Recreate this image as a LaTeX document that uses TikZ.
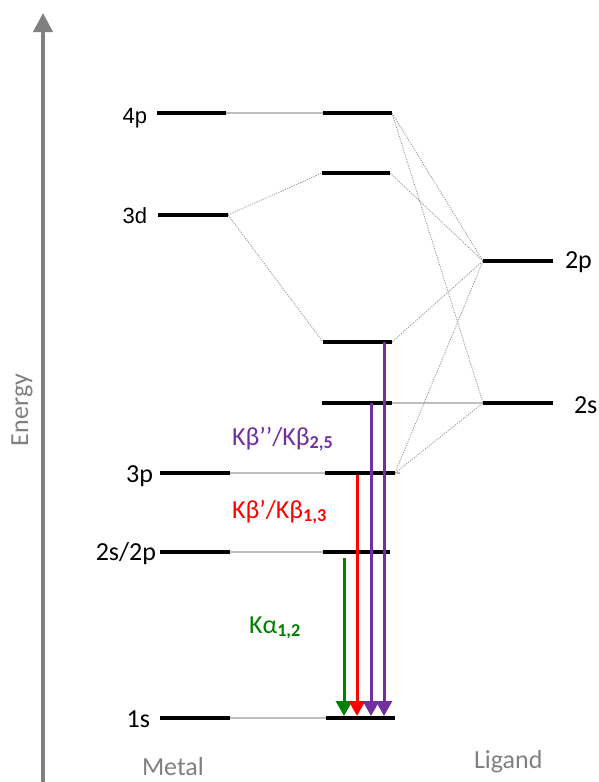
\documentclass[tikz,border=0pt]{standalone}
\usepackage{fontspec}
\setmainfont{Carlito}
\newfontfamily\arialfont{Liberation Sans}
\usetikzlibrary{arrows.meta}
\definecolor{axisgray}{RGB}{128,128,128}
\definecolor{textgray}{RGB}{128,128,128}
\definecolor{linkgray}{RGB}{190,190,190}
\definecolor{dotgray}{RGB}{150,150,150}
\definecolor{kbpurple}{RGB}{112,48,160}
\definecolor{kbred}{RGB}{255,0,0}
\definecolor{kagreen}{RGB}{0,128,0}

\begin{document}
\begin{tikzpicture}[x=1pt,y=-1pt,line width=4pt,font=\fontsize{26}{30}\selectfont,
  link/.style={line width=2.6pt,linkgray},
  corr/.style={line width=0.8pt,dotgray,dash pattern=on 1.2pt off 1.2pt},
  trans/.style={line width=3pt,-{Triangle[width=16pt,length=15pt]}},
  lbl/.style={inner sep=0pt}]
  \useasboundingbox (0,0) rectangle (598,782);

  % energy axis
  \coordinate (E0) at (43,782);
  \coordinate (E1) at (43,13);
  \draw[axisgray,-{Triangle[width=19pt,length=19pt]}] (E0) -- (E1);

  % metal levels
  \coordinate (Mp4L) at (157,113); \coordinate (Mp4R) at (226,113);
  \coordinate (Md3L) at (158,215); \coordinate (Md3R) at (228,215);
  \coordinate (Mp3L) at (160,473); \coordinate (Mp3R) at (230,473);
  \coordinate (Msp2L) at (160,552); \coordinate (Msp2R) at (230,552);
  \coordinate (Ms1L) at (160,718); \coordinate (Ms1R) at (230,718);

  % molecular levels
  \coordinate (A1L) at (323,113); \coordinate (A1R) at (392,113);
  \coordinate (A2L) at (322,173); \coordinate (A2R) at (390,173);
  \coordinate (A3L) at (323,342); \coordinate (A3R) at (392,342);
  \coordinate (A4L) at (322,403); \coordinate (A4R) at (392,403);
  \coordinate (A5L) at (325,473); \coordinate (A5R) at (395,473);
  \coordinate (A6L) at (323,552); \coordinate (A6R) at (390,552);
  \coordinate (A7L) at (326,718); \coordinate (A7R) at (395,718);

  % ligand levels
  \coordinate (Lp2L) at (483,261); \coordinate (Lp2R) at (553,261);
  \coordinate (Ls2L) at (483,403); \coordinate (Ls2R) at (553,403);

  % grey links
  \draw[link] (Mp4R) -- (A1L);
  \draw[link] (Mp3R) -- (A5L);
  \draw[link] (A5R) -- +(5,0);
  \draw[link] (Msp2R) -- (A6L);
  \draw[link] (Ms1R) -- (A7L);
  \draw[link] (A4R) -- (Ls2L);

  % dotted correlation lines
  \draw[corr] (A1R) -- (Lp2L);
  \draw[corr] (A1R) -- (Ls2L);
  \draw[corr] (A2R) -- (Lp2L);
  \draw[corr] (Md3R) -- (A2L);
  \draw[corr] (Md3R) -- (A3L);
  \draw[corr] (A3R) -- (Lp2L);
  \draw[corr] (A5R) -- (Lp2L);
  \draw[corr] (A5R) -- (Ls2L);

  % black levels
  \foreach \lv in {Mp4,Md3,Mp3,Msp2,Ms1,A1,A2,A3,A4,A5,A6,A7,Lp2,Ls2}
    \draw (\lv L) -- (\lv R);

  % transitions
  \coordinate (Ka0) at (344,558); \coordinate (Ka1) at (344,716);
  \coordinate (Kb0) at (357,475); \coordinate (Kb1) at (357,716);
  \coordinate (Kc0) at (371,403); \coordinate (Kc1) at (371,716);
  \coordinate (Kd0) at (384,342); \coordinate (Kd1) at (384,716);
  \draw[trans,kagreen] (Ka0) -- (Ka1);
  \draw[trans,kbred] (Kb0) -- (Kb1);
  \draw[trans,kbpurple] (Kc0) -- (Kc1);
  \draw[trans,kbpurple] (Kd0) -- (Kd1);

  % level labels
  \node[lbl,anchor=base east,font=\arialfont\fontsize{22}{26}\selectfont] (t4p) at (149,123) {4p};
  \node[lbl,anchor=base east,font=\arialfont\fontsize{22}{26}\selectfont] (t3d) at (149,223) {3d};
  \node[lbl,anchor=base east] (t3p) at (155,482) {3p};
  \node[lbl,anchor=base east] (t2s2p) at (158,560) {2s/2p};
  \node[lbl,anchor=base east] (t1s) at (152,727) {1s};
  \node[lbl,anchor=base west] (t2p) at (563,268) {2p};
  \node[lbl,anchor=base west] (t2s) at (572,413) {2s};

  % transition labels
  \node[lbl,anchor=base west,kbpurple] (tkb25) at (230,445) {Kβ’’/Kβ\textsubscript{\bfseries 2,5}};
  \node[lbl,anchor=base west,kbred] (tkb13) at (230,518) {Kβ’/Kβ\textsubscript{\bfseries 1,3}};
  \node[lbl,anchor=base west,kagreen] (tka12) at (247,633) {Kα\textsubscript{\bfseries 1,2}};

  % axis and side labels
  \node[lbl,anchor=base,rotate=90,textgray] (tE) at (28,410) {Energy};
  \node[lbl,anchor=base west,textgray] (tM) at (140,775) {Metal};
  \node[lbl,anchor=base west,textgray] (tL) at (472,768) {Ligand};
\end{tikzpicture}
\end{document}
